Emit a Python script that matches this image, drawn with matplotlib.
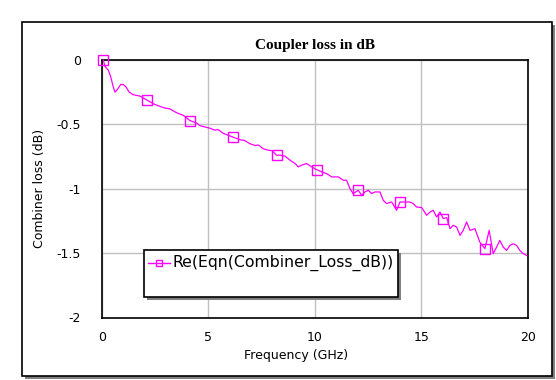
import matplotlib
matplotlib.use('Agg')
import matplotlib.pyplot as plt
from matplotlib.patches import Rectangle
from matplotlib.lines import Line2D

# Re(Eqn(Combiner_Loss_dB))
freq = [0.06, 0.14, 0.30, 0.41, 0.53, 0.61, 0.72, 0.88, 1.00, 1.13, 1.28, 1.47,
        1.78, 2.10, 2.41, 2.88, 3.19, 3.51, 3.82, 4.13, 4.45, 4.60, 5.07, 5.30,
        5.45, 5.70, 6.17, 6.50, 6.70, 6.95, 7.20, 7.35, 7.58, 7.80, 8.00, 8.20,
        8.36, 8.60, 8.83, 9.07, 9.22, 9.38, 9.61, 9.85, 10.08, 10.32, 10.55,
        10.79, 11.10, 11.34, 11.49, 11.65, 11.80, 12.04, 12.20, 12.35, 12.51,
        12.67, 12.82, 13.06, 13.21, 13.37, 13.61, 13.84, 14.00, 14.23, 14.47,
        14.62, 14.78, 15.02, 15.25, 15.41, 15.56, 15.72, 15.88, 16.03, 16.19,
        16.35, 16.50, 16.66, 16.82, 16.97, 17.13, 17.29, 17.52, 17.75, 17.99,
        18.19, 18.38, 18.54, 18.69, 18.85, 19.01, 19.16, 19.32, 19.48, 19.63,
        19.79, 19.95]
loss = [0.0, -0.05, -0.08, -0.13, -0.21, -0.25, -0.23, -0.19, -0.19, -0.21, -0.25, -0.27,
        -0.28, -0.31, -0.34, -0.37, -0.38, -0.41, -0.43, -0.47, -0.49, -0.51, -0.53, -0.545,
        -0.54, -0.57, -0.60, -0.62, -0.625, -0.65, -0.665, -0.66, -0.69, -0.70, -0.705, -0.74,
        -0.739, -0.747, -0.778, -0.804, -0.830, -0.817, -0.804, -0.830, -0.851, -0.869, -0.882,
        -0.908, -0.908, -0.934, -0.934, -0.999, -1.038, -1.012, -1.051, -1.025, -1.012,
        -1.038, -1.025, -1.025, -1.089, -1.115, -1.103, -1.167, -1.103, -1.103, -1.103,
        -1.115, -1.142, -1.146, -1.206, -1.181, -1.167, -1.219, -1.181, -1.232, -1.224,
        -1.310, -1.284, -1.297, -1.362, -1.323, -1.258, -1.323, -1.310, -1.414, -1.465,
        -1.323, -1.504, -1.453, -1.401, -1.453, -1.479, -1.440, -1.427, -1.440, -1.479,
        -1.504, -1.518]
marker_freqs = [0.06, 2.10, 4.13, 6.17, 8.20, 10.08, 12.04, 14.00, 16.03, 17.99]

x_ticks = [0, 5, 10, 15, 20]
y_ticks = [0, -0.5, -1, -1.5, -2]
y_tick_labels = ['0', '-0.5', '-1', '-1.5', '-2']

W, H = 556, 380
MAGENTA = '#FF00FF'

def fx(px):
    return px / W

def fy(py):
    return 1 - py / H

fig = plt.figure(figsize=(W / 100, H / 100), dpi=100)
fig.patch.set_facecolor('white')

# outer frame with drop shadow
fig.patches.append(Rectangle((fx(25), fy(379)), 530 / W, 354 / H, transform=fig.transFigure,
                             facecolor='#808080', edgecolor='none', zorder=-2))
fig.patches.append(Rectangle((fx(22), fy(376)), 530 / W, 354 / H, transform=fig.transFigure,
                             facecolor='white', edgecolor='black', linewidth=1.2, zorder=-1))

ax = fig.add_axes([fx(102), fy(317.5), 425.7 / W, 257.5 / H])
ax.set_zorder(1)
ax.plot(freq, loss, color=MAGENTA, linewidth=0.9,
        marker='s', markersize=7.5, markerfacecolor='none', markeredgecolor=MAGENTA,
        markeredgewidth=1.0, markevery=[freq.index(f) for f in marker_freqs],
        clip_on=False, zorder=3)

ax.set_xlim(0, 20)
ax.set_ylim(-2, 0)
ax.set_xticks(x_ticks)
ax.set_yticks(y_ticks)
ax.set_yticklabels(y_tick_labels)
ax.tick_params(length=0, labelsize=9, colors='black')
ax.tick_params(axis='y', pad=15)
ax.tick_params(axis='x', pad=10)
ax.grid(True, color='#C0C0C0', linewidth=1.0)
ax.set_axisbelow(True)
for s in ax.spines.values():
    s.set_color('black')
    s.set_linewidth(1.2)

fig.text(fx(315), fy(45), 'Coupler loss in dB', ha='center', va='center',
         family='Liberation Serif', fontweight='bold', fontsize=11)
fig.text(fx(296), fy(355), 'Frequency (GHz)', ha='center', va='center', fontsize=9)
fig.text(fx(40), fy(188), 'Combiner loss (dB)', ha='center', va='center',
         rotation=90, fontsize=9)

# legend box with shadow
fig.patches.append(Rectangle((fx(147), fy(300)), 254 / W, 47 / H, transform=fig.transFigure,
                             facecolor='#808080', edgecolor='none', zorder=4))
fig.patches.append(Rectangle((fx(144), fy(297)), 254 / W, 47 / H, transform=fig.transFigure,
                             facecolor='white', edgecolor='black', linewidth=1.2, zorder=5))
fig.lines.append(Line2D([fx(148), fx(170)], [fy(263), fy(263)], transform=fig.transFigure,
                        color=MAGENTA, linewidth=1.0, zorder=6))
fig.lines.append(Line2D([fx(159)], [fy(263)], transform=fig.transFigure, marker='s',
                        markersize=5, markerfacecolor='none', markeredgecolor=MAGENTA,
                        markeredgewidth=1.0, zorder=6))
fig.text(fx(172), fy(263), 'Re(Eqn(Combiner_Loss_dB))', ha='left', va='center',
         fontsize=11.3, zorder=7)

fig.savefig('out.png', dpi=100)
